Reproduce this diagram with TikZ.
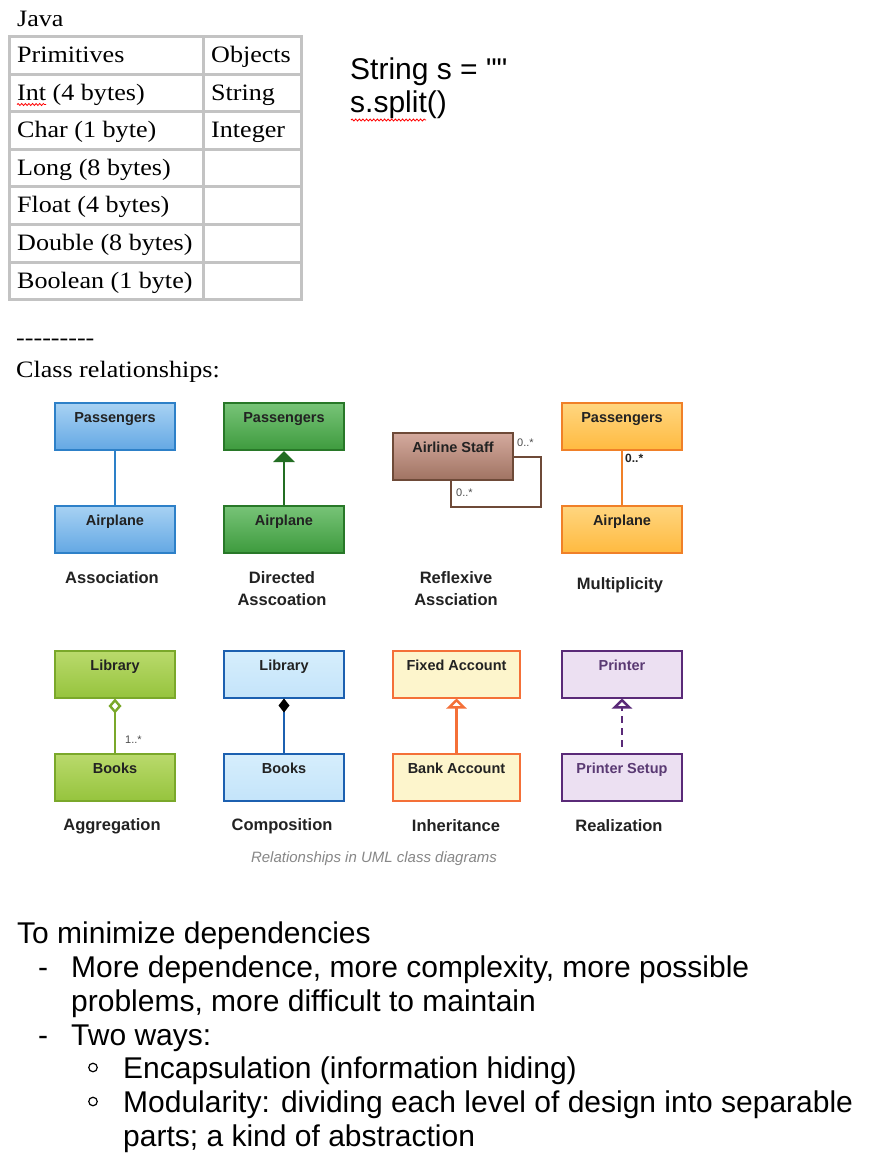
\documentclass[tikz,border=0pt]{standalone}
\usepackage{fontspec}
\setmainfont{Liberation Sans}
\newfontfamily\serifg{Liberation Serif}[FakeStretch=1.11]
\usetikzlibrary{arrows.meta,decorations.pathmorphing}
\definecolor{tblgray}{RGB}{195,195,195}
\definecolor{blueTop}{RGB}{168,210,243}
\definecolor{blueBot}{RGB}{100,168,228}
\definecolor{blueLine}{RGB}{45,128,200}
\definecolor{grnTop}{RGB}{120,196,120}
\definecolor{grnBot}{RGB}{62,155,62}
\definecolor{grnLine}{RGB}{40,120,40}
\definecolor{grnArrow}{RGB}{35,110,35}
\definecolor{brnTop}{RGB}{212,170,158}
\definecolor{brnBot}{RGB}{160,115,98}
\definecolor{brnLine}{RGB}{110,74,56}
\definecolor{orgTop}{RGB}{255,214,128}
\definecolor{orgBot}{RGB}{255,186,64}
\definecolor{orgLine}{RGB}{240,128,40}
\definecolor{limeTop}{RGB}{186,218,108}
\definecolor{limeBot}{RGB}{150,196,62}
\definecolor{limeLine}{RGB}{122,168,42}
\definecolor{cmpTop}{RGB}{214,238,252}
\definecolor{cmpBot}{RGB}{196,228,250}
\definecolor{cmpLine}{RGB}{28,96,176}
\definecolor{inhFill}{RGB}{253,245,204}
\definecolor{inhLine}{RGB}{244,112,56}
\definecolor{relFill}{RGB}{236,224,242}
\definecolor{relLine}{RGB}{90,42,120}
\definecolor{relText}{RGB}{90,58,115}
\definecolor{capGray}{RGB}{135,135,135}
\definecolor{txtDark}{RGB}{34,34,34}
\newcommand{\umlf}{\fontsize{14.5}{17}\selectfont\bfseries}
\newcommand{\capf}{\fontsize{16.5}{22}\selectfont\bfseries}
\begin{document}
\begin{tikzpicture}[x=1pt,y=-1pt,
  txt/.style={anchor=base west, inner sep=0pt},
  serifrow/.style={txt, font=\serifg\fontsize{23.5}{28}\selectfont},
  sanstxt/.style={txt, font=\fontsize{30}{34}\selectfont},
  umlbox/.style={draw, line width=2pt, minimum width=120pt, minimum height=47pt,
     inner xsep=2pt, inner ysep=2pt, text height=17.5pt, text depth=25.5pt,
     font=\umlf, text=txtDark},
  capl/.style={font=\capf, text=txtDark, align=center, inner sep=0pt},
  mult/.style={font=\fontsize{11}{13}\selectfont, text=black!70, inner sep=0pt, anchor=west},
  conn/.style={line width=2.4pt},
  squig/.style={red, line width=0.8pt, decorate, decoration={snake, amplitude=1pt, segment length=3.6pt}},
  bul/.style={circle, draw, line width=1.2pt, minimum size=8.5pt, inner sep=0pt}
]
\useasboundingbox (0,0) rectangle (880,1158);
\fill[white] (0,0) rectangle (880,1158);

% ---- Java table ----
\node[serifrow] (java) at (17,27) {Java};
\draw[tblgray, line width=3pt] (9,37) rectangle (301,299);
\foreach \yy in {74.5,112,149.5,187,224.5,262}
  \draw[tblgray, line width=3pt] (9,\yy) -- (301,\yy);
\draw[tblgray, line width=3pt] (203,37) -- (203,299);
\node[serifrow] (p0) at (17,63) {Primitives};
\node[serifrow] (p1) at (17,100.5) {Int (4 bytes)};
\node[serifrow] (p2) at (17,138) {Char (1 byte)};
\node[serifrow] (p3) at (17,175.5) {Long (8 bytes)};
\node[serifrow] (p4) at (17,213) {Float (4 bytes)};
\node[serifrow] (p5) at (17,250.5) {Double (8 bytes)};
\node[serifrow] (p6) at (17,288) {Boolean (1 byte)};
\node[serifrow] (o0) at (211,63) {Objects};
\node[serifrow] (o1) at (211,100.5) {String};
\node[serifrow] (o2) at (211,138) {Integer};
\draw[squig] (17,104.5) -- (46,104.5);

% ---- String ----
\node[sanstxt] (str1) at (350,80) {String s = {\addfontfeature{Ligatures=TeXOff}""}};
\node[sanstxt] (str2) at (350,113) {s.split()};
\draw[squig] (351,120) -- (426,120);

\node[serifrow] (dashes) at (16,345) {-{}-{}-{}-{}-{}-{}-{}-{}-};
\node[serifrow] (clsrel) at (16,377) {Class relationships:};

% ---- Row 1 ----
\node[umlbox, top color=blueTop, bottom color=blueBot, draw=blueLine] (asP) at (115,426.5) {Passengers};
\node[umlbox, top color=blueTop, bottom color=blueBot, draw=blueLine] (asA) at (115,529) {Airplane};
\draw[conn, blueLine] (asA) -- (asP);
\node[capl] (asL) at (112,578) {Association};

\node[umlbox, top color=grnTop, bottom color=grnBot, draw=grnLine] (dP) at (284,426.5) {Passengers};
\node[umlbox, top color=grnTop, bottom color=grnBot, draw=grnLine] (dA) at (284,529) {Airplane};
\draw[conn, grnArrow, -{Triangle[width=21pt,length=11pt]}] (dA) -- (dP);
\node[capl] (dL) at (282,589) {Directed\\Asscoation};

\node[umlbox, top color=brnTop, bottom color=brnBot, draw=brnLine] (rS) at (453,456.5) {Airline Staff};
\draw[line width=2pt, brnLine] (rS.east) -- ++(27,0) -- ++(0,50.5) -| ([xshift=-2pt]rS.south);
\node[mult] (rM1) at (517,443) {0..*};
\node[mult] (rM2) at (456,493) {0..*};
\node[capl] (rL) at (456,589) {Reflexive\\Assciation};

\node[umlbox, top color=orgTop, bottom color=orgBot, draw=orgLine] (mP) at (622,426.5) {Passengers};
\node[umlbox, top color=orgTop, bottom color=orgBot, draw=orgLine] (mA) at (622,529) {Airplane};
\draw[conn, orgLine] (mA) -- (mP);
\node[mult, font=\bfseries\fontsize{12}{14}\selectfont, text=txtDark] (mM) at (625,458) {0..*};
\node[capl] (mL) at (620,585) {Multiplicity};

% ---- Row 2 ----
\node[umlbox, top color=limeTop, bottom color=limeBot, draw=limeLine] (gL) at (115,674) {Library};
\node[umlbox, top color=limeTop, bottom color=limeBot, draw=limeLine] (gB) at (115,777) {Books};
\draw[conn, limeLine, -{Diamond[open, width=13pt, length=15pt]}] (gB) -- (gL);
\node[mult] (gM) at (125,740) {1..*};
\node[capl] (gLab) at (112,826) {Aggregation};

\node[umlbox, top color=cmpTop, bottom color=cmpBot, draw=cmpLine] (cL) at (284,674) {Library};
\node[umlbox, top color=cmpTop, bottom color=cmpBot, draw=cmpLine] (cB) at (284,777) {Books};
\draw[conn, cmpLine, -{Diamond[color=black, fill=black, width=11pt, length=14pt]}] (cB) -- (cL);
\node[capl] (cLab) at (282,826) {Composition};

\node[umlbox, minimum width=127pt, fill=inhFill, draw=inhLine] (iF) at (456.5,674) {Fixed Account};
\node[umlbox, minimum width=127pt, fill=inhFill, draw=inhLine] (iB) at (456.5,777) {Bank Account};
\draw[conn, inhLine, -{Triangle[open, width=20pt, length=10pt]}] (iB) -- (iF);
\node[capl] (iLab) at (456,826) {Inheritance};

\node[umlbox, fill=relFill, draw=relLine, text=relText] (zP) at (622,674) {Printer};
\node[umlbox, fill=relFill, draw=relLine, text=relText] (zS) at (622,777) {Printer Setup};
\draw[conn, relLine, dash pattern=on 7pt off 5pt, -{Triangle[open, width=20pt, length=10pt]}] ([yshift=6pt]zS.north) -- (zP);
\node[capl] (zLab) at (619,826) {Realization};

\node[font=\itshape\fontsize{15}{18}\selectfont, text=capGray] (caption) at (374,859) {Relationships in UML class diagrams};

% ---- Bottom text ----
\node[sanstxt] (t0) at (17,943) {To minimize dependencies};
\node[sanstxt] (d1) at (38,977) {-};
\node[sanstxt] (t1) at (71,977) {More dependence, more complexity, more possible};
\node[sanstxt] (t2) at (71,1011) {problems, more difficult to maintain};
\node[sanstxt] (d2) at (38,1045) {-};
\node[sanstxt] (t3) at (71,1045) {Two ways:};
\node[bul] (b1) at (93,1067.5) {};
\node[sanstxt] (t4) at (123,1078) {Encapsulation (information hiding)};
\node[bul] (b2) at (93,1101.5) {};
\node[sanstxt] (t5) at (123,1112) {Modularity: dividing each level of design into separable};
\node[sanstxt] (t6) at (123,1146) {parts; a kind of abstraction};
\end{tikzpicture}
\end{document}
